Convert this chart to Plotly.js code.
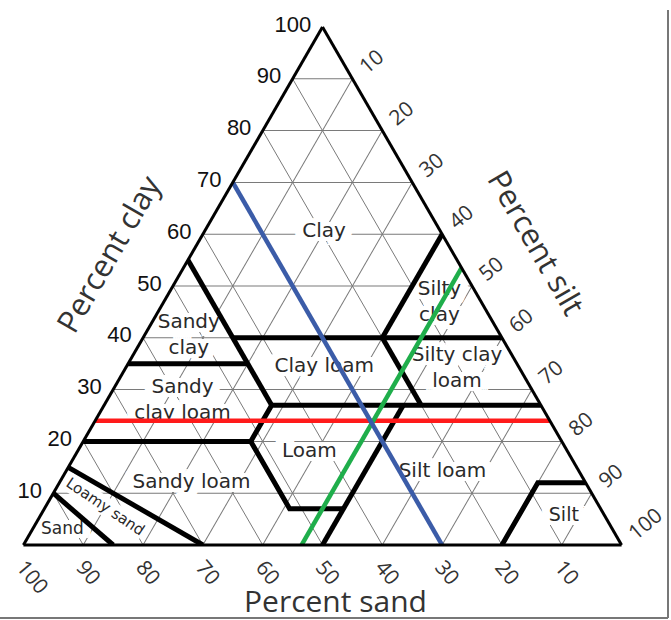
<!DOCTYPE html>
<html><head><meta charset="utf-8">
<script src="https://cdn.plot.ly/plotly-3.0.1.min.js"></script>
<style>html,body{margin:0;padding:0;background:#fff}</style>
</head><body><div id="chart" style="width:671px;height:620px"></div>
<script>
// ---- data: USDA texture class boundaries (percent sand / silt / clay) ----
const boundarySand = [[90,85],[85,70],[80,52,52,43],[50,23],[52,45,0],[65,45],[45,45],[45,0],[20,0],[20,20],[20,8,0]];
const boundarySilt = [[0,15],[0,30],[0,28,41,50],[50,50],[28,28,73],[0,20],[0,28],[15,60],[40,40],[40,53],[80,80,88]];
const boundaryClay = [[10,0],[15,0],[20,20,7,7],[0,27],[20,27,27],[35,35],[55,27],[40,40],[40,60],[40,27],[0,12,12]];

// reference lines (sample: 30 % sand, 46.5 % silt, 24 % clay)
const redSand = [76, 0],   redSilt = [0, 76],   redClay = [24, 24];
const greenSand = [53.5, 0], greenSilt = [46.5, 46.5], greenClay = [0, 53.5];
const blueSand = [30, 30], blueSilt = [0, 70],  blueClay = [70, 0];

// class labels
const labelText = ['Clay','Sandy<br>clay','Sandy<br>clay loam','Clay loam','Silty<br>clay','Silty clay<br>loam','Loam','Sandy loam','Silt loam','Silt','Sand'];
const labelSand = [19.5, 52.2, 59.5, 32.5, 7.1, 10.5, 43.2, 65.9, 22.9, 6.9, 92];
const labelSilt = [20.0, 7.5, 12.7, 33.1, 46.2, 55.5, 38.8, 22.1, 63.0, 87.6, 5];
const labelClay = [60.5, 40.3, 27.8, 34.4, 46.7, 34.0, 18.0, 12.0, 14.1, 5.5, 3];
const labelSize = [20, 20, 20, 20, 20, 20, 20, 20, 20, 19, 17];
const rotLabelText = 'Loamy sand', rotLabelSand = 82.5, rotLabelSilt = 10.1, rotLabelClay = 7.4;

const tickVals = [10,20,30,40,50,60,70,80,90,100];
const axisTitles = ['Percent clay','Percent silt','Percent sand'];

// ---- layout helpers ----
const W = 671, H = 620;
const M = {l:23, r:49, t:27, b:75};
const pw = W - M.l - M.r, ph = H - M.t - M.b;
function px2paper(px, py){ return {x:(px - M.l)/pw, y:1 - (py - M.t)/ph}; }
function tern2paper(sand, silt, clay){
  const s = sand + silt + clay;
  let h = ph, w = h*2/Math.sqrt(3);
  if (w > pw){ w = pw; h = w*Math.sqrt(3)/2; }
  const x0 = M.l + pw/2 - w/2, y0 = M.t + ph/2 - h/2;
  return px2paper(x0 + w*(silt/s + clay/s/2), y0 + h*(1 - clay/s));
}

const halo = [];
for (let dx=-8; dx<=8; dx+=2) for (let dy=-4; dy<=4; dy+=2) halo.push(dx+'px '+dy+'px 0 #fff');
const haloStr = halo.join(', ');

const traces = [];
// labels first (their white halo hides the grid, lines are drawn over them)
traces.push({
  type:'scatterternary', mode:'text',
  a: labelClay, b: labelSand, c: labelSilt, text: labelText,
  textposition:'middle center',
  textfont:{family:'DejaVu Sans', size: labelSize, color:'#2a2a2a', shadow: haloStr},
  hoverinfo:'skip', showlegend:false, cliponaxis:false
});
for (let i=0;i<boundarySand.length;i++){
  traces.push({
    type:'scatterternary', mode:'lines',
    a: boundaryClay[i], b: boundarySand[i], c: boundarySilt[i],
    line:{color:'#000', width:5}, hoverinfo:'skip', showlegend:false
  });
}
traces.push({type:'scatterternary', mode:'lines', a:redClay, b:redSand, c:redSilt,
  line:{color:'#ff1a1a', width:4.5}, hoverinfo:'skip', showlegend:false});
traces.push({type:'scatterternary', mode:'lines', a:greenClay, b:greenSand, c:greenSilt,
  line:{color:'#1fae4b', width:4.5}, hoverinfo:'skip', showlegend:false});
traces.push({type:'scatterternary', mode:'lines', a:blueClay, b:blueSand, c:blueSilt,
  line:{color:'#3b5ca8', width:4.5}, hoverinfo:'skip', showlegend:false});

function axis(extra){
  return Object.assign({
    title:{text:''}, min:0, tickmode:'array', tickvals:tickVals,
    ticks:'outside', ticklen:7, tickcolor:'rgba(0,0,0,0)',
    showline:true, linewidth:3, linecolor:'#000',
    showgrid:true, gridcolor:'#7a7a7a', gridwidth:1
  }, extra);
}

const rp = tern2paper(rotLabelSand, rotLabelSilt, rotLabelClay);
const pc = px2paper(108, 253), ps = px2paper(537, 242), pd = px2paper(335, 600);
const common = {xref:'paper', yref:'paper', showarrow:false, xanchor:'center', yanchor:'middle'};
const annotations = [
  Object.assign({x:rp.x, y:rp.y, text:rotLabelText, textangle:34,
   font:{family:'DejaVu Sans', size:15, color:'#2a2a2a'}, bgcolor:'#fff', borderpad:0}, common),
  Object.assign({x:pc.x, y:pc.y, text:axisTitles[0], textangle:-60,
   font:{family:'Open Sans', size:31, color:'#333'}}, common),
  Object.assign({x:ps.x, y:ps.y, text:axisTitles[1], textangle:60,
   font:{family:'Open Sans', size:31, color:'#333'}}, common),
  Object.assign({x:pd.x, y:pd.y, text:axisTitles[2],
   font:{family:'Open Sans', size:30, color:'#333'}}, common)
];
const fr = px2paper(668, 618);
const shapes = [
  {type:'line', xref:'paper', yref:'paper', x0:fr.x, x1:fr.x, y0:px2paper(0,10).y, y1:fr.y, line:{color:'#777', width:2}},
  {type:'line', xref:'paper', yref:'paper', x0:px2paper(0,0).x, x1:fr.x, y0:fr.y, y1:fr.y, line:{color:'#777', width:2}}
];

const layout = {
  width:W, height:H, margin:M, paper_bgcolor:'#fff', showlegend:false,
  ternary:{
    sum:100, bgcolor:'#fff',
    aaxis: axis({tickfont:{family:'Liberation Sans', size:22, color:'#111'}}),
    baxis: axis({tickangle:50, ticks:'', ticklen:0, tickfont:{family:'Open Sans', size:21, color:'#333'}}),
    caxis: axis({tickangle:-40, tickfont:{family:'Open Sans', size:21, color:'#333'}})
  },
  annotations: annotations, shapes: shapes
};
Plotly.newPlot('chart', traces, layout, {displayModeBar:false, staticPlot:true});
</script></body></html>
